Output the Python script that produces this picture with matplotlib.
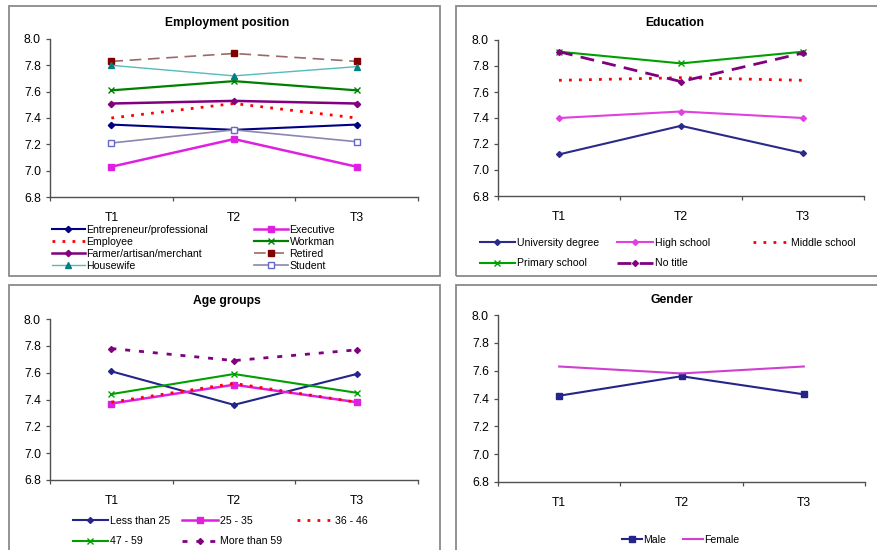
import matplotlib
matplotlib.use("Agg")
import matplotlib.pyplot as plt
from matplotlib.patches import Rectangle
from matplotlib.ticker import FixedLocator, NullFormatter, FixedFormatter

plt.rcParams['font.family'] = ['Liberation Sans', 'DejaVu Sans']

# ---------------- data ----------------
periods = ["T1", "T2", "T3"]
y_ticks = [6.8, 7.0, 7.2, 7.4, 7.6, 7.8, 8.0]

employment_labels = ["Entrepreneur/professional", "Executive", "Employee", "Workman",
                     "Farmer/artisan/merchant", "Retired", "Housewife", "Student"]
entrepreneur = [7.35, 7.31, 7.35]
executive = [7.03, 7.24, 7.03]
employee = [7.40, 7.51, 7.40]
workman = [7.61, 7.68, 7.61]
farmer = [7.51, 7.53, 7.51]
retired = [7.83, 7.89, 7.83]
housewife = [7.80, 7.72, 7.79]
student = [7.21, 7.31, 7.22]

education_labels = ["University degree", "High school", "Middle school",
                    "Primary school", "No title"]
university = [7.12, 7.34, 7.13]
high_school = [7.40, 7.45, 7.40]
middle_school = [7.69, 7.71, 7.69]
primary_school = [7.91, 7.82, 7.91]
no_title = [7.91, 7.68, 7.90]

age_labels = ["Less than 25", "25 - 35", "36 - 46", "47 - 59", "More than 59"]
age_lt25 = [7.61, 7.36, 7.59]
age_25_35 = [7.37, 7.51, 7.38]
age_36_46 = [7.38, 7.52, 7.38]
age_47_59 = [7.44, 7.59, 7.45]
age_gt59 = [7.78, 7.69, 7.77]

gender_labels = ["Male", "Female"]
male = [7.42, 7.56, 7.43]
female = [7.63, 7.58, 7.63]

# ---------------- layout helpers ----------------
W, H = 878, 550
fig = plt.figure(figsize=(W / 100, H / 100), dpi=100)


def fx(x):
    return x / W


def fy(y):
    return 1 - y / H


def make_axes(left, right, top, bottom):
    ax = fig.add_axes([fx(left), fy(bottom), fx(right - left), (bottom - top) / H])
    x = range(1, len(periods) + 1)
    ax.set_xlim(0.5, len(periods) + 0.5)
    ax.set_ylim(6.8, 8.0)
    for s in ("top", "right"):
        ax.spines[s].set_visible(False)
    for s in ("left", "bottom"):
        ax.spines[s].set_color("#505050")
        ax.spines[s].set_linewidth(1.0)
    ax.set_yticks(y_ticks)
    ax.set_yticklabels([f"{v:.1f}" for v in y_ticks])
    ax.tick_params(axis="y", direction="out", length=3, width=0.9, color="#505050",
                   pad=3.5, labelsize=8.8)
    ax.xaxis.set_major_locator(FixedLocator([i + 0.5 for i in range(len(periods) + 1)]))
    ax.xaxis.set_major_formatter(NullFormatter())
    ax.xaxis.set_minor_locator(FixedLocator(list(x)))
    ax.xaxis.set_minor_formatter(FixedFormatter(periods))
    ax.tick_params(axis="x", which="major", direction="out", length=3, width=0.9,
                   color="#505050")
    ax.tick_params(axis="x", which="minor", length=0, pad=10.5, labelsize=8.8)
    ax.set_facecolor("none")
    return ax, list(x)


def panel_box(x0, y0, x1, y1):
    fig.patches.append(Rectangle((fx(x0), fy(y1)), fx(x1 - x0), (y1 - y0) / H,
                                 transform=fig.transFigure, fill=False,
                                 edgecolor="#8a8a8a", linewidth=1.3))


def column_legend(handles, labels, x_line, y_row, line_px, row_px):
    fs = 7.6
    fs_px = fs * 100 / 72
    text_h = 0.93 * fs_px
    leg = fig.legend(handles, labels, loc="upper left",
                     bbox_to_anchor=(fx(x_line), fy(y_row - text_h / 2)),
                     frameon=False, fontsize=fs, borderpad=0, borderaxespad=0,
                     handlelength=line_px / fs_px, handletextpad=0.15,
                     labelspacing=max((row_px - text_h) / fs_px, 0.0), numpoints=1)
    return leg


def title(text, x, y):
    fig.text(fx(x), fy(y), text, ha="center", va="center", fontsize=8.7,
             fontweight="bold")


# ---------------- panel frames ----------------
panel_box(9, 6, 440, 276)
panel_box(456, 6, 890, 276)
panel_box(9, 285, 440, 570)
panel_box(456, 285, 890, 570)

# ---------------- Employment position ----------------
ax1, x = make_axes(50, 418, 39, 197)
title("Employment position", 227, 23)
h = []
h += ax1.plot(x, entrepreneur, color="#000080", lw=1.5, marker="D", ms=3.2)
h += ax1.plot(x, executive, color="#E020E0", lw=1.8, marker="s", ms=4)
h += ax1.plot(x, employee, color="#FF0000", lw=2.0, ls=(0, (1.0, 2.6)))
h += ax1.plot(x, workman, color="#008000", lw=1.6, marker="x", ms=5, mew=1.0)
h += ax1.plot(x, farmer, color="#800080", lw=1.8, marker="D", ms=3.2)
h += ax1.plot(x, retired, color="#9a6a6a", lw=1.2, ls=(0, (7, 4)), marker="s", ms=4,
              mfc="#800000", mec="#800000")
h += ax1.plot(x, housewife, color="#55BBBB", lw=1.0, marker="^", ms=4.5,
              mfc="#008080", mec="#008080")
h += ax1.plot(x, student, color="#8a86b0", lw=1.2, marker="s", ms=4, mfc="white",
              mec="#6666CC", mew=1.0)
column_legend(h[0::2], employment_labels[0::2], 52, 230, 33, 11.7)
column_legend(h[1::2], employment_labels[1::2], 254, 230, 34, 11.7)

# ---------------- Education ----------------
ax2, x = make_axes(498, 864, 40, 196)
title("Education", 675, 23)
h = []
h += ax2.plot(x, university, color="#2a2a8a", lw=1.5, marker="D", ms=3)
h += ax2.plot(x, high_school, color="#E040E0", lw=1.5, marker="D", ms=3)
h += ax2.plot(x, middle_school, color="#FF0000", lw=2.0, ls=(0, (1.0, 2.6)))
h += ax2.plot(x, primary_school, color="#00A000", lw=1.5, marker="x", ms=5, mew=1.0)
h += ax2.plot(x, no_title, color="#800080", lw=2.0, ls=(0, (5, 3)), marker="D", ms=3)
column_legend([h[0], h[3]], [education_labels[0], education_labels[3]], 480, 243, 35, 20)
column_legend([h[1], h[4]], [education_labels[1], education_labels[4]], 617, 243, 36, 20)
column_legend([h[2]], [education_labels[2]], 753, 243, 36, 20)

# ---------------- Age groups ----------------
ax3, x = make_axes(50, 418, 319, 480)
title("Age groups", 227, 301)
h = []
h += ax3.plot(x, age_lt25, color="#24248a", lw=1.5, marker="D", ms=3)
h += ax3.plot(x, age_25_35, color="#E020E0", lw=1.8, marker="s", ms=4)
h += ax3.plot(x, age_36_46, color="#FF0000", lw=2.0, ls=(0, (1.0, 2.6)))
h += ax3.plot(x, age_47_59, color="#00A000", lw=1.5, marker="x", ms=5, mew=1.0)
h += ax3.plot(x, age_gt59, color="#800080", lw=2.0, ls=(0, (1.8, 3.2)), marker="D", ms=3)
column_legend([h[0], h[3]], [age_labels[0], age_labels[3]], 73, 521, 35, 20)
column_legend([h[1], h[4]], [age_labels[1], age_labels[4]], 182, 521, 36, 20)
column_legend([h[2]], [age_labels[2]], 297, 521, 36, 20)

# ---------------- Gender ----------------
ax4, x = make_axes(498, 865, 315, 482)
title("Gender", 672, 300)
h = []
h += ax4.plot(x, male, color="#24248a", lw=1.5, marker="s", ms=4)
h += ax4.plot(x, female, color="#D040D0", lw=1.5)
column_legend([h[0]], [gender_labels[0]], 622, 540, 20, 20)
column_legend([h[1]], [gender_labels[1]], 683, 540, 20, 20)

fig.savefig("out.png", dpi=100)
